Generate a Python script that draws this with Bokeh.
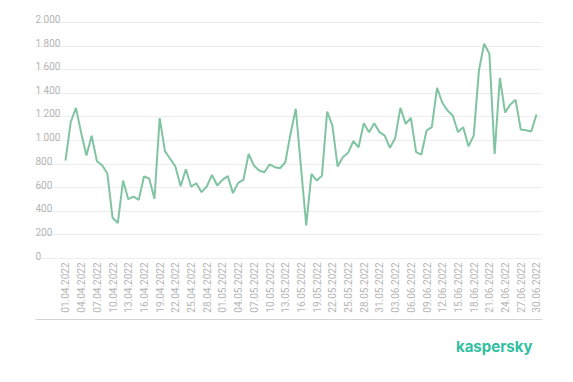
from math import pi
from bokeh.plotting import figure
from bokeh.models import Range1d, FixedTicker, ColumnDataSource, Title
from bokeh.core.properties import value
from bokeh.embed import file_html
from bokeh.resources import INLINE

# daily values, 01.04.2022 .. 30.06.2022
values = [830, 1155, 1277, 1065, 873, 1040, 825, 790, 720, 345,
          300, 660, 503, 525, 497, 695, 678, 506, 1190, 910,
          845, 780, 612, 757, 610, 638, 562, 610, 709, 619,
          667, 698, 554, 641, 667, 887, 788, 746, 731, 797,
          774, 765, 816, 1057, 1269, 775, 280, 718, 661, 701,
          1246, 1127, 780, 859, 896, 994, 943, 1147, 1071, 1147,
          1071, 1042, 938, 1020, 1277, 1141, 1192, 901, 881, 1085,
          1113, 1447, 1320, 1254, 1212, 1071, 1113, 952, 1040, 1593,
          1820, 1735, 887, 1531, 1237, 1305, 1345, 1093, 1087, 1076,
          1220]
days = list(range(len(values)))

tick_labels = ["01.04.2022", "04.04.2022", "07.04.2022", "10.04.2022", "13.04.2022",
               "16.04.2022", "19.04.2022", "22.04.2022", "25.04.2022", "28.04.2022",
               "01.05.2022", "04.05.2022", "07.05.2022", "10.05.2022", "13.05.2022",
               "16.05.2022", "19.05.2022", "22.05.2022", "25.05.2022", "28.05.2022",
               "31.05.2022", "03.06.2022", "06.06.2022", "09.06.2022", "12.06.2022",
               "15.06.2022", "18.06.2022", "21.06.2022", "24.06.2022", "27.06.2022",
               "30.06.2022"]
tick_days = list(range(0, len(values), 3))

y_ticks = [0, 200, 400, 600, 800, 1000, 1200, 1400, 1600, 1800, 2000]
y_labels = ["0", "200", "400", "600", "800", "1\u00a0000", "1\u00a0200", "1\u00a0400",
            "1\u00a0600", "1\u00a0800", "2\u00a0000"]

GRAY = "#b5b5b5"

p = figure(frame_width=507, frame_height=309,
           x_range=Range1d(-5.73, 91.15), y_range=Range1d(-517, 2102),
           output_backend="svg", toolbar_location=None,
           min_border_left=35, min_border_right=16, min_border_top=10, min_border_bottom=45)
p.outline_line_color = None
p.background_fill_color = "white"
p.border_fill_color = "white"
p.yaxis.visible = False
p.xgrid.visible = False
p.ygrid.ticker = FixedTicker(ticks=y_ticks)
p.ygrid.grid_line_color = "#ededed"
p.ygrid.grid_line_width = 1

p.xaxis.ticker = FixedTicker(ticks=[])
p.xaxis.axis_line_color = "#d4d4d4"
p.xaxis.major_tick_line_color = None
p.xaxis.minor_tick_line_color = None

# data line
p.line(days, values, line_color="#80c4a1", line_width=2)

# y tick labels sitting above the grid lines
x0 = p.x_range.start
ysrc = ColumnDataSource(dict(x=[x0] * len(y_ticks), y=y_ticks, t=y_labels))
p.text(x="x", y="y", text="t", source=ysrc, text_font=value("Roboto"),
       text_font_size="10px", text_color=GRAY, text_align="left",
       text_baseline="alphabetic", y_offset=-3)

# rotated date labels
xsrc = ColumnDataSource(dict(x=tick_days, y=[0] * len(tick_days), t=tick_labels))
p.text(x="x", y="y", text="t", source=xsrc, angle=pi / 2, text_font=value("Roboto"),
       text_font_size="10px", text_color=GRAY, text_align="right",
       text_baseline="middle", y_offset=4)

# logo
p.add_layout(Title(text="kaspersky", align="right", offset=10, standoff=31,
                   text_font="Inter", text_font_style="bold", text_font_size="15px",
                   text_color="#30bfa0"), "below")

open("out.html", "w").write(file_html(p, INLINE))
